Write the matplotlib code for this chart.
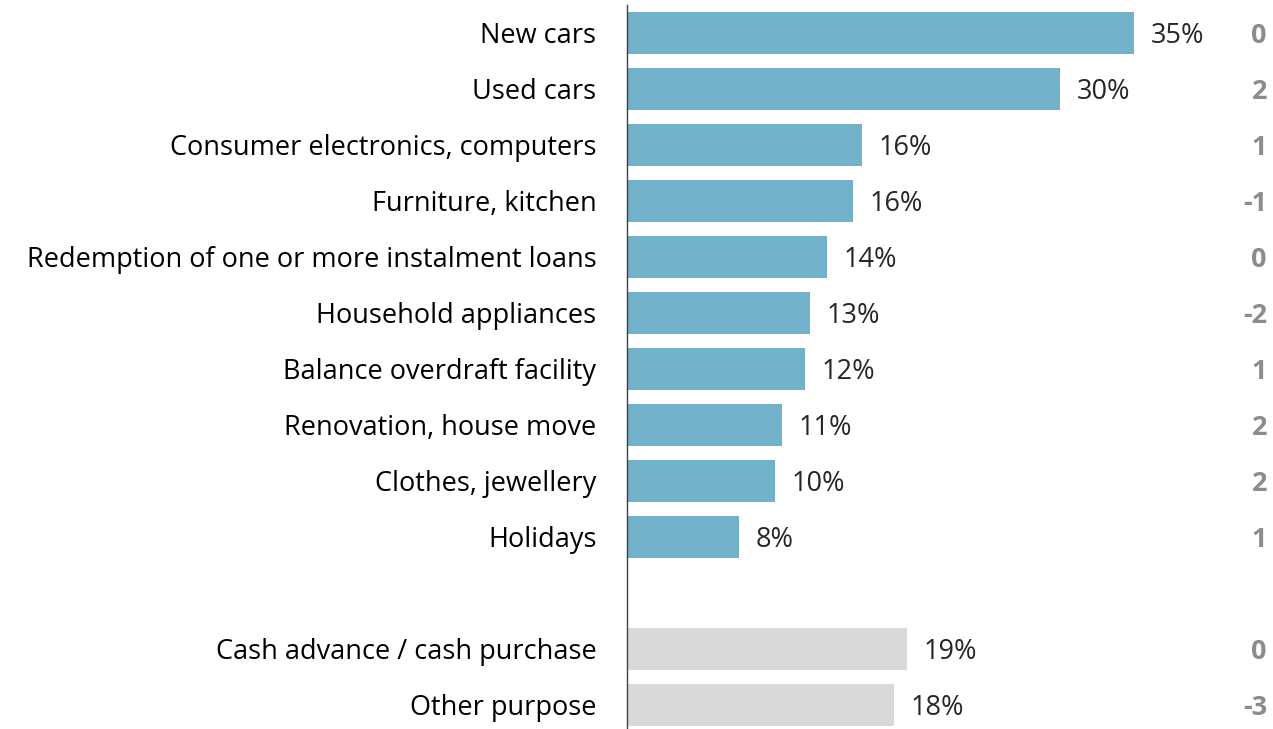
import matplotlib
matplotlib.use("Agg")
import matplotlib.pyplot as plt

plt.rcParams['font.family'] = ['Open Sans', 'DejaVu Sans']

categories = [
    "New cars", "Used cars", "Consumer electronics, computers", "Furniture, kitchen",
    "Redemption of one or more instalment loans", "Household appliances",
    "Balance overdraft facility", "Renovation, house move", "Clothes, jewellery",
    "Holidays", "Cash advance / cash purchase", "Other purpose",
]
shares = [35.0, 29.9, 16.2, 15.6, 13.8, 12.6, 12.3, 10.7, 10.2, 7.7, 19.3, 18.4]
changes = ["0", "2", "1", "-1", "0", "-2", "1", "2", "2", "1", "0", "-3"]
group = ["purpose"] * 10 + ["other"] * 2

colors = {"purpose": "#71b1c9", "other": "#d9d9d9"}
# one empty slot separates the two groups
positions = list(range(10)) + [11, 12]

W, H = 1273, 729
fig = plt.figure(figsize=(W / 100, H / 100), dpi=100)
left_px = 627
ax = fig.add_axes([left_px / W, 0, 1 - left_px / W, 1])

slot_px = 56
top_data = -0.5 - 5 / slot_px
bottom_data = 12.5 - 4 / slot_px
ax.set_ylim(bottom_data, top_data)
px_per_unit = 507 / 35.0
ax.set_xlim(0, (W - left_px) / px_per_unit)

ax.barh(positions, shares, height=0.75,
        color=[colors[g] for g in group])

fs = 19.5
base_off = -7.4  # points from bar centre down to the text baseline
for p, v, name, ch in zip(positions, shares, categories, changes):
    ax.annotate(f"{v:.0f}%", (v, p), xytext=(12, base_off), textcoords="offset points",
                ha="left", va="baseline", fontsize=fs, color="#262626")
    ax.annotate(name, (0, p), xytext=(-22, base_off), textcoords="offset points",
                ha="right", va="baseline", fontsize=fs, color="#000000",
                annotation_clip=False)
    ax.annotate(ch, ((1267 - left_px) / px_per_unit, p), xytext=(0, base_off),
                textcoords="offset points", ha="right", va="baseline",
                fontsize=fs, fontweight="bold", color="#8c8c8c",
                annotation_clip=False)

for s in ["top", "right", "bottom"]:
    ax.spines[s].set_visible(False)
ax.spines["left"].set_bounds(top_data + 5 / slot_px, bottom_data)
ax.spines["left"].set_color("#404040")
ax.spines["left"].set_linewidth(1.0)
ax.set_xticks([])
ax.set_yticks([])
ax.patch.set_alpha(0)

fig.savefig("out.png", dpi=100)
